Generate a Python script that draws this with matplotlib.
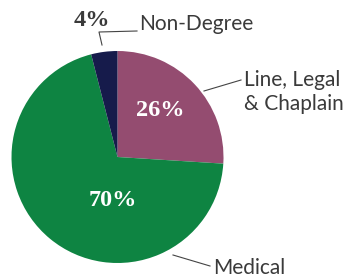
import matplotlib
matplotlib.use("Agg")
import matplotlib.pyplot as plt

categories = ["Line, Legal\n& Chaplain", "Medical", "Non-Degree"]
values = [26, 70, 4]
pct_labels = ["26%", "70%", "4%"]
colors = ["#944C70", "#0E8442", "#161B4B"]

W, H = 345, 279
fig = plt.figure(figsize=(W / 100, H / 100), dpi=100)
ax = fig.add_axes([0, 0, 1, 1])


def Y(y):
    return H - y


cx, cy, r = 117.5, 157, 106
wedges, _ = ax.pie(values, colors=colors, startangle=90, counterclock=False,
                   center=(cx, Y(cy)), radius=r, frame=False,
                   wedgeprops=dict(linewidth=0))
ax.set_xlim(0, W)
ax.set_ylim(0, H)
ax.set_aspect("equal")
ax.axis("off")

serif = dict(family="Liberation Serif", weight="bold", fontsize=17.5)
sans = dict(family="Lato", fontsize=15, color="#3a3a3a")

ax.text(160, Y(110), pct_labels[0], color="white", ha="center", va="center", **serif)
ax.text(113, Y(201), pct_labels[1], color="white", ha="center", va="center", **serif)
ax.text(92, Y(20), pct_labels[2], color="#3a3a3a", ha="center", va="center", **serif)

ax.text(139, Y(24), categories[2], ha="left", va="center", **sans)
ax.text(244, Y(92), categories[0], ha="left", va="center", linespacing=1.2, **sans)
ax.text(213, Y(268), categories[1], ha="left", va="center", **sans)

lc = dict(color="#444444", lw=0.8)
ax.plot([102, 99, 137], [Y(45), Y(32), Y(31)], **lc)
ax.plot([204, 241], [Y(91), Y(80)], **lc)
ax.plot([173, 210], [Y(255), Y(266)], **lc)

fig.savefig("out.png", dpi=100)
